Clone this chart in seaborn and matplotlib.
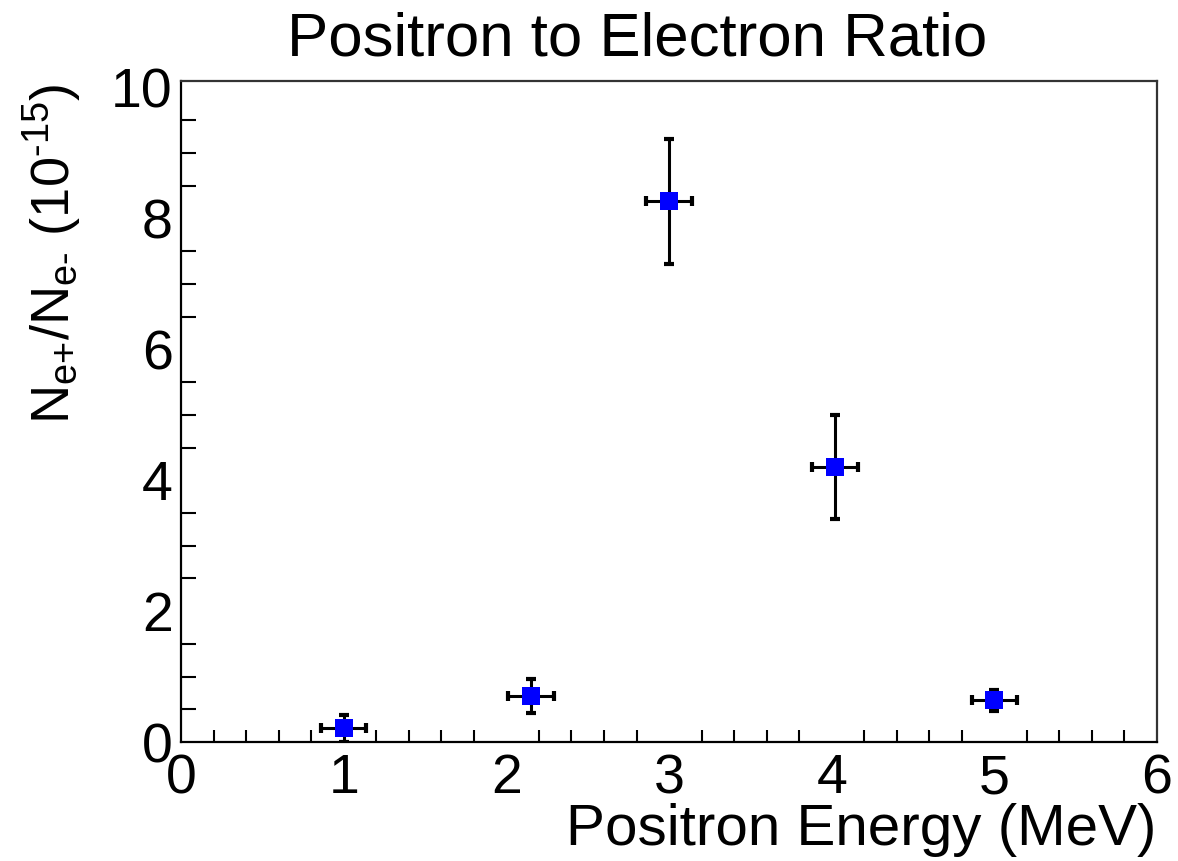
import numpy as np
import pandas as pd
import matplotlib
matplotlib.use("Agg")
import matplotlib.pyplot as plt
import seaborn as sns

# data
energy = [1.0, 2.15, 3.0, 4.02, 5.0]
ratio = [0.21, 0.70, 8.26, 4.20, 0.64]
energy_err = [0.14, 0.14, 0.14, 0.14, 0.14]
ratio_err = [0.21, 0.26, 0.96, 0.79, 0.16]
xticks = [0, 1, 2, 3, 4, 5, 6]
yticks = [0, 2, 4, 6, 8, 10]

sns.set_theme(style="white")
plt.rcParams['font.family'] = ['Liberation Sans', 'DejaVu Sans']
plt.rcParams['mathtext.fontset'] = 'custom'
plt.rcParams['mathtext.rm'] = 'Liberation Sans'
plt.rcParams['mathtext.it'] = 'Liberation Sans'
plt.rcParams['text.color'] = 'black'

df = pd.DataFrame({'energy': energy, 'ratio': ratio,
                   'xerr': energy_err, 'yerr': ratio_err})

fig = plt.figure(figsize=(11.78, 8.61), dpi=100)
ax = fig.add_axes([0.1537, 0.1382, 0.8285, 0.7677])

ax.errorbar(df['energy'], df['ratio'], xerr=df['xerr'], yerr=df['yerr'],
            fmt='none', ecolor='black', elinewidth=2.2, capsize=3.5,
            capthick=3, zorder=2)
sns.scatterplot(data=df, x='energy', y='ratio', marker='s', s=170,
                color='#0000ff', edgecolor='none', ax=ax, zorder=3)

ax.set_xlim(0, 6)
ax.set_ylim(0, 10.1)
ax.set_xticks(xticks)
ax.set_yticks(yticks)
ax.set_xticks(np.arange(0, 6.01, 0.2), minor=True)
ax.set_yticks(np.arange(0, 10.01, 0.5), minor=True)
ax.set_xticklabels([str(t) for t in xticks])
ax.set_yticklabels([str(t) for t in yticks])

ax.tick_params(axis='both', which='both', direction='in', colors='black',
               width=1.5, labelsize=40, top=False, right=False)
ax.tick_params(axis='x', which='major', length=15, pad=8)
ax.tick_params(axis='x', which='minor', length=8.5, bottom=True)
ax.tick_params(axis='y', which='major', length=21.5, pad=6)
ax.tick_params(axis='y', which='minor', length=11, left=True)

for side in ['left', 'bottom']:
    ax.spines[side].set_color('black')
    ax.spines[side].set_linewidth(1.6)
for side in ['top', 'right']:
    ax.spines[side].set_color('#333333')
    ax.spines[side].set_linewidth(1.6)

ax.set_xlabel('')
ax.set_ylabel('')
fig.text(0.541, 0.953, 'Positron to Electron Ratio', ha='center',
         va='center', fontsize=44.5)
fig.text(0.982, 0.036, 'Positron Energy (MeV)', ha='right',
         va='center', fontsize=42)
fig.text(0.045, 0.903,
         r'$\mathregular{N_{\text{e+}}/N_{\text{e-}}}$ (10$^{\text{-15}}$)',
         rotation=90, ha='center', va='top', fontsize=39)

fig.savefig('out.png', dpi=100, facecolor='white')
